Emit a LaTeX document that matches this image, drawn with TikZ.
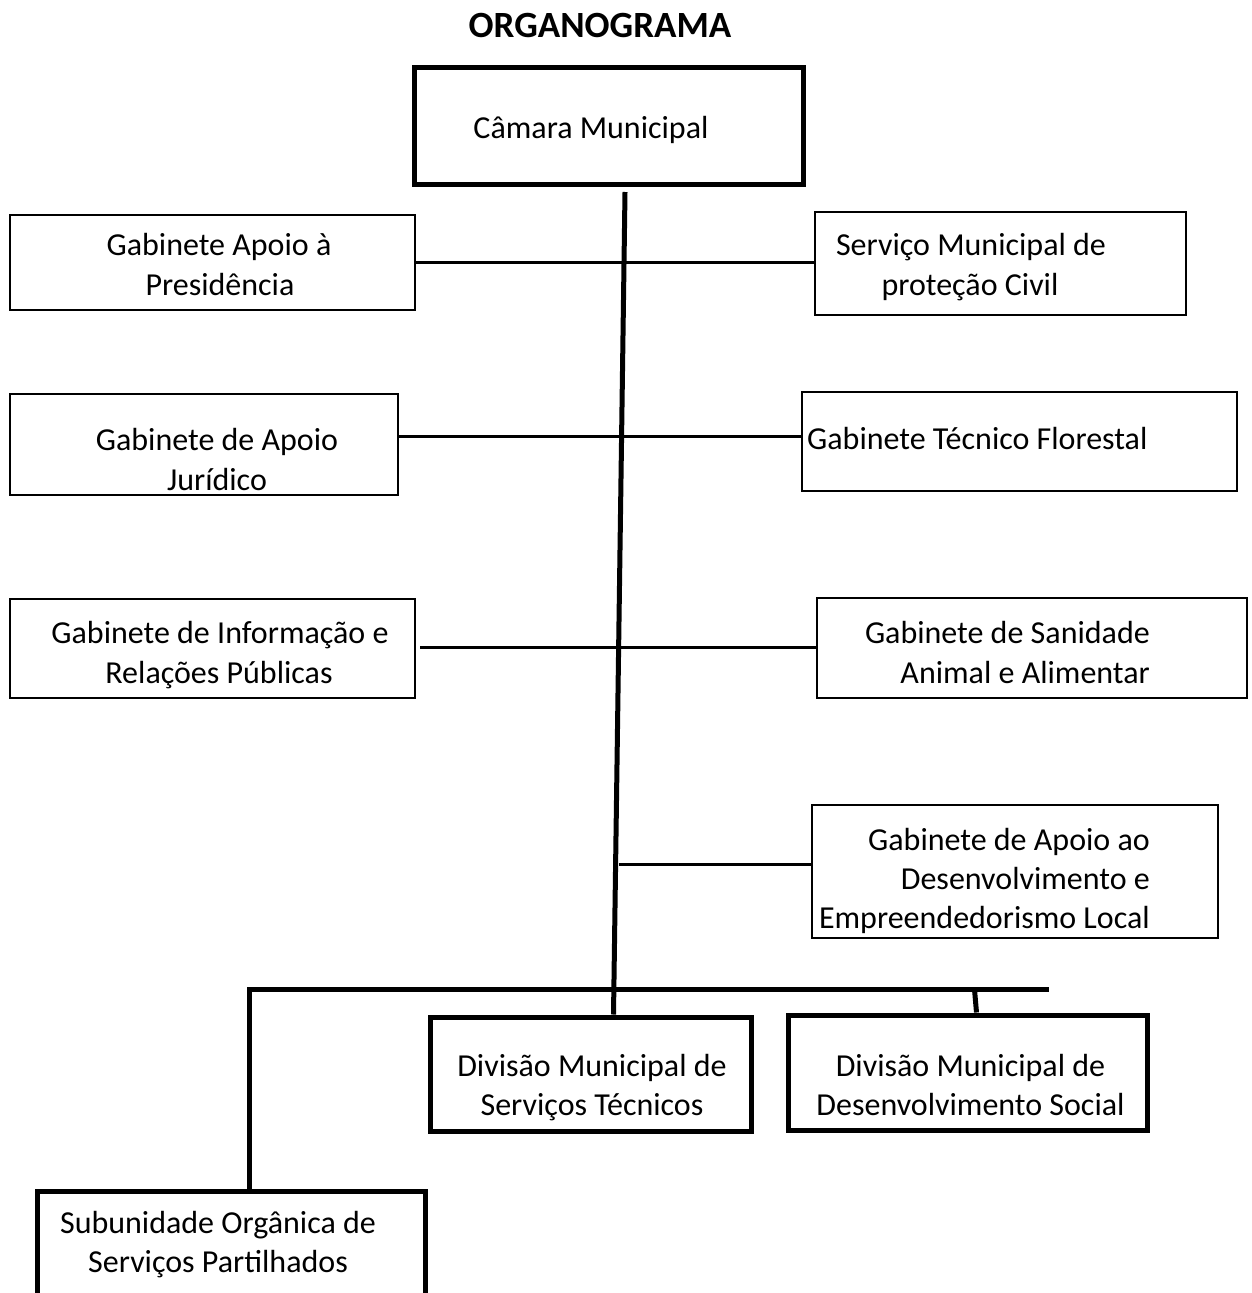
\documentclass[tikz,border=0pt]{standalone}
\usepackage{fontspec}
\setmainfont{Carlito}
\usetikzlibrary{calc}
\begin{document}
\begin{tikzpicture}[x=1pt,y=-1pt,
  thinbox/.style={draw=black, line width=2.5pt, rectangle, inner sep=0pt},
  thickbox/.style={draw=black, line width=5pt, rectangle, inner sep=0pt, line join=miter},
  conn/.style={draw=black, line width=3pt},
  heavy/.style={draw=black, line width=5pt, line join=miter},
  lbl/.style={inner sep=0pt, anchor=base, font=\fontsize{32}{40}\selectfont},
  ttl/.style={inner sep=0pt, anchor=base, font=\bfseries\fontsize{37}{44}\selectfont}]
\useasboundingbox (0,0) rectangle (1251,1293);
\clip (0,0) rectangle (1251,1293);
\fill[white] (0,0) rectangle (1251,1293);

% title
\node[ttl] (title) at (600,37) {ORGANOGRAMA};

% boxes
\node[thickbox, minimum width=389pt, minimum height=117pt] (cam) at (608.5,125.5) {};
\node[thinbox, minimum width=405pt, minimum height=95pt] (gap) at (212.5,262.5) {};
\node[thinbox, minimum width=371pt, minimum height=103pt] (srv) at (1000.5,263.5) {};
\node[thinbox, minimum width=388pt, minimum height=101pt] (gaj) at (204,444.5) {};
\node[thinbox, minimum width=435pt, minimum height=99pt] (gtf) at (1019.5,441.5) {};
\node[thinbox, minimum width=405pt, minimum height=99pt] (gir) at (212.5,648.5) {};
\node[thinbox, minimum width=430pt, minimum height=100pt] (gsa) at (1032,648) {};
\node[thinbox, minimum width=406pt, minimum height=133pt] (gad) at (1015,871.5) {};
\node[thickbox, minimum width=321pt, minimum height=114pt] (dst) at (590.5,1074) {};
\node[thickbox, minimum width=359pt, minimum height=115pt] (dds) at (967.5,1072.5) {};
\node[thickbox, minimum width=388pt, minimum height=129pt] (sub) at (231,1255.5) {};

% texts
\node[lbl] (tcam) at (591,138) {Câmara Municipal};
\node[lbl] (tgap1) at (219,255) {Gabinete Apoio à};
\node[lbl] (tgap2) at (220,295) {Presidência};
\node[lbl] (tsrv1) at (971,255) {Serviço Municipal de};
\node[lbl] (tsrv2) at (970,295) {proteção Civil};
\node[lbl] (tgaj1) at (217,450) {Gabinete de Apoio};
\node[lbl] (tgaj2) at (217,490) {Jurídico};
\node[lbl, anchor=base west] (tgtf) at (807,449) {Gabinete Técnico Florestal};
\node[lbl] (tgir1) at (220,643) {Gabinete de Informação e};
\node[lbl] (tgir2) at (219,683) {Relações Públicas};
\node[lbl, anchor=base east] (tgsa1) at (1150,643) {Gabinete de Sanidade};
\node[lbl, anchor=base east] (tgsa2) at (1150,683) {Animal e Alimentar};
\node[lbl, anchor=base east] (tgad1) at (1150,850) {Gabinete de Apoio ao};
\node[lbl, anchor=base east] (tgad2) at (1150,889) {Desenvolvimento e};
\node[lbl, anchor=base east] (tgad3) at (1150,928) {Empreendedorismo Local};
\node[lbl] (tdst1) at (592,1076) {Divisão Municipal de};
\node[lbl] (tdst2) at (592,1115) {Serviços Técnicos};
\node[lbl] (tdds1) at (970.5,1076) {Divisão Municipal de};
\node[lbl] (tdds2) at (970.5,1115) {Desenvolvimento Social};
\node[lbl] (tsub1) at (218,1233) {Subunidade Orgânica de};
\node[lbl] (tsub2) at (218,1272) {Serviços Partilhados};

% junction coordinates
\coordinate (ttop) at (625,192);
\coordinate (tbx) at (613.5,0);
\coordinate (r2) at (0,436);
\coordinate (r3s) at (420,647);
\coordinate (r4s) at (619,864);
\coordinate (bl) at (249,989.5);
\coordinate (br) at (1049,989.5);
\coordinate (dj) at (974.5,989.5);
\coordinate (djx) at (976.5,0);

% trunk
\draw[heavy] (ttop) -- (dst.north -| tbx);

% lateral connectors
\draw[conn] (gap.east) -- (gap.east -| srv.west);
\draw[conn] (gaj.east |- r2) -- (gtf.west |- r2);
\draw[conn] (r3s) -- (r3s -| gsa.west);
\draw[conn] (r4s) -- (r4s -| gad.west);

% bottom bus
\draw[heavy] (sub.north -| bl) -- (bl) -- (br);
\draw[heavy] (dj) -- (dds.north -| djx);
\end{tikzpicture}
\end{document}
